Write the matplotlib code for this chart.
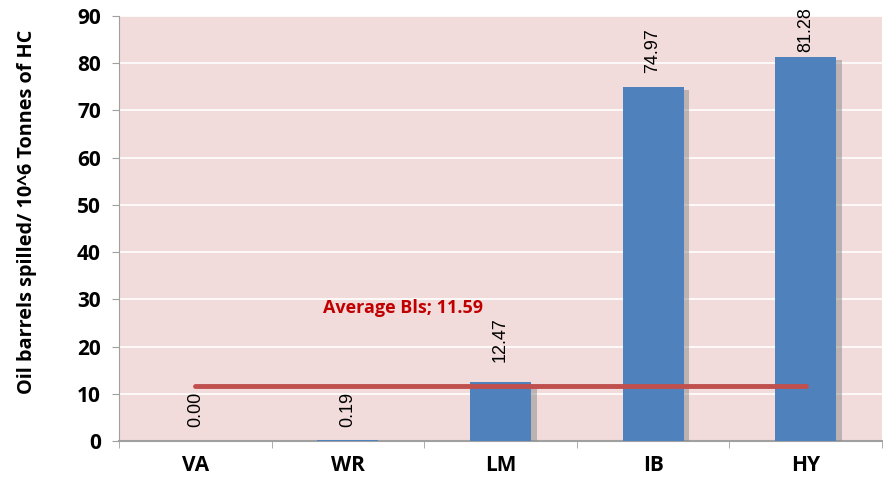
import matplotlib
matplotlib.use("Agg")
import matplotlib.pyplot as plt
import matplotlib.patheffects as pe
import numpy as np

categories = ["VA", "WR", "LM", "IB", "HY"]
values = [0.00, 0.19, 12.47, 74.97, 81.28]
value_labels = ["0.00", "0.19", "12.47", "74.97", "81.28"]
average = 11.59
average_label = "Average Bls; 11.59"
yticks = [0, 10, 20, 30, 40, 50, 60, 70, 80, 90]
ylabel = "Oil barrels spilled/ 10^6 Tonnes of HC"

fig = plt.figure(figsize=(8.83, 4.82), dpi=100)
ax = fig.add_axes([119/883, 1-441/482, (882-119)/883, (441-16)/482])
ax.set_facecolor("#F2DCDB")

x = np.arange(len(categories))
bars = ax.bar(x, values, width=0.4, color="#4F81BD", zorder=3,
              path_effects=[pe.SimplePatchShadow(offset=(4, -2), shadow_rgbFace="#8a8a8a", alpha=0.5), pe.Normal()])

ax.set_xlim(-0.5, len(categories) - 0.5)
ax.set_ylim(0, 90)
ax.set_yticks(yticks)
ax.yaxis.grid(True, color="white", linewidth=1.2, zorder=0)
ax.set_axisbelow(True)

# average line
ax.plot([x[0], x[-1]], [average, average], color="#C0504D", linewidth=3.5, zorder=4,
        solid_capstyle="round")
ax.text(1.36, 28.2, average_label, color="#C00000", fontsize=13, fontweight="bold",
        family="Open Sans", ha="center", va="center", zorder=5)

offsets = [14, 13, 20, 14, 5]
for xi, v, lab, off in zip(x, values, value_labels, offsets):
    ax.annotate(lab, (xi, v), xytext=(0, off), textcoords="offset pixels",
                rotation=90, ha="center", va="bottom", fontsize=13,
                family="Liberation Sans", color="black", zorder=6)

ax.set_xticks(x)
ax.set_xticklabels(categories, fontsize=15, fontweight="bold", family="Open Sans")
ax.set_xticks(np.arange(-0.5, len(categories)), minor=True)
ax.tick_params(axis="x", which="major", length=0, pad=10)
ax.tick_params(axis="x", which="minor", length=5, color="#a0a0a0", direction="out")
for lab in ax.get_yticklabels():
    lab.set_fontweight("bold")
    lab.set_family("Open Sans")
    lab.set_fontsize(15)
ax.tick_params(axis="y", length=5, color="#a0a0a0", direction="out", pad=8)

ax.set_ylabel(ylabel, fontsize=14.3, fontweight="bold", family="Open Sans")
ax.yaxis.set_label_coords(-0.107, 0.54)

for s in ["top", "right"]:
    ax.spines[s].set_visible(False)
ax.spines["left"].set_color("#a0a0a0")
ax.spines["bottom"].set_color("#a0a0a0")
ax.spines["bottom"].set_linewidth(1.5)

fig.savefig("out.png", dpi=100)
